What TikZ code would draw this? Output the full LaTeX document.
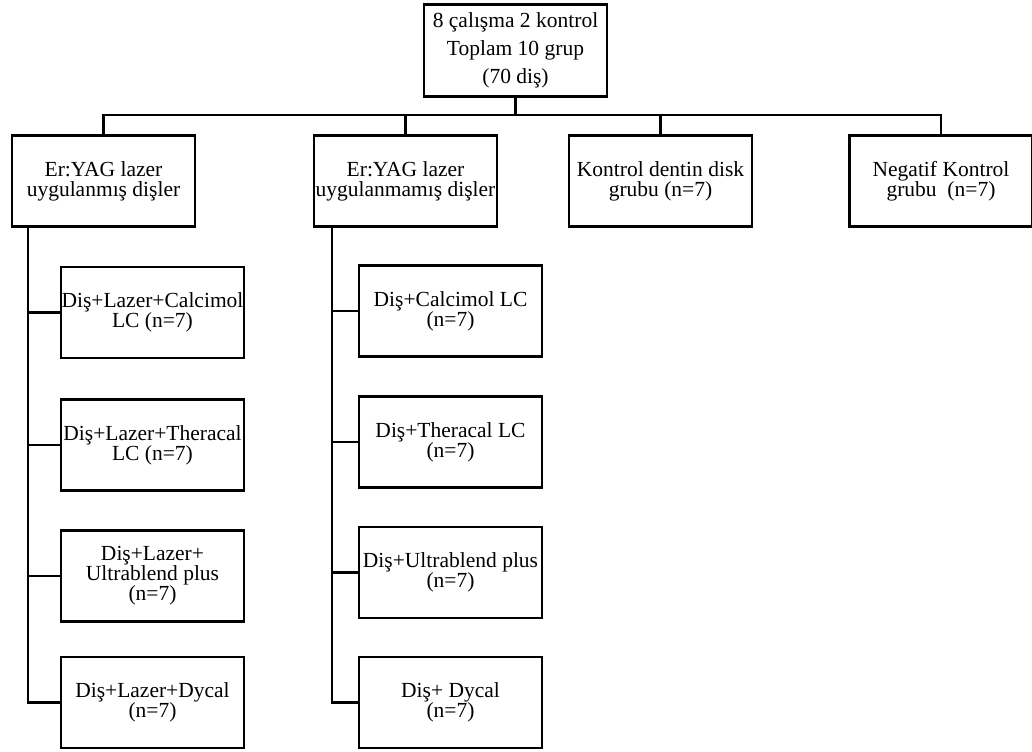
\documentclass[tikz,border=0pt]{standalone}
\usepackage{fontspec}
\setmainfont{Liberation Serif}
\usetikzlibrary{positioning}

\tikzset{
    kutu/.style={draw, line width=1.2pt, align=center, inner sep=0pt,
        minimum width=91.5pt, minimum height=45.5pt,
        font=\fontsize{10.75}{10}\selectfont},
    bag/.style={line width=1.2pt}
}

\begin{document}
\begin{tikzpicture}[x=0.5pt, y=-0.5pt]
        \useasboundingbox (0,0) rectangle (1032,751);

        % Ana kutu
        \node[kutu, minimum height=46pt, font=\fontsize{10.75}{14}\selectfont] (top) at (515.5,50.5)
            {8 çalışma 2 kontrol\\ Toplam 10 grup\\(70 diş)};

        % Birinci seviye
        \node[kutu] (lazer)   at (103.5,181) {Er:YAG lazer\\uygulanmış dişler};
        \node[kutu] (lazersiz) at (405.5,181) {Er:YAG lazer\\uygulanmamış dişler};
        \node[kutu] (kontrol) at (660.5,181) {Kontrol dentin disk\\grubu (n=7)};
        \node[kutu] (negatif) at (941,181) {Negatif Kontrol\\grubu~ (n=7)};

        \coordinate (bar) at (515.5,115);
        \draw[bag] (top.south) -- (bar);
        \draw[bag] (lazer.north) |- (negatif.north |- bar) -- (negatif.north);
        \draw[bag] (lazersiz.north) -- (lazersiz.north |- bar);
        \draw[bag] (kontrol.north) -- (kontrol.north |- bar);

        % Alt gruplar (lazer uygulanmış)
        \node[kutu] (l1) at (152.5,312.5) {Diş+Lazer+Calcimol\\LC (n=7)};
        \node[kutu] (l2) at (152.5,445)   {Diş+Lazer+Theracal\\LC (n=7)};
        \node[kutu] (l3) at (152.5,576)   {Diş+Lazer+\\Ultrablend plus\\(n=7)};
        \node[kutu] (l4) at (152.5,702.5) {Diş+Lazer+Dycal\\(n=7)};

        % Alt gruplar (lazer uygulanmamış)
        \node[kutu] (m1) at (450.5,311)   {Diş+Calcimol LC\\(n=7)};
        \node[kutu] (m2) at (450.5,442)   {Diş+Theracal LC\\(n=7)};
        \node[kutu] (m3) at (450.5,572.5) {Diş+Ultrablend plus\\(n=7)};
        \node[kutu] (m4) at (450.5,702.5) {Diş+ Dycal\\(n=7)};

        % Gövde çizgileri
        \coordinate (lgovde) at ([xshift=8.5pt]lazer.south west);
        \coordinate (mgovde) at ([xshift=9.5pt]lazersiz.south west);
        \draw[bag] (lgovde) |- (l4.west);
        \draw[bag] (mgovde) |- (m4.west);
        \foreach \n in {1,2,3}{
            \draw[bag] (l\n.west) -- (lgovde |- l\n.west);
            \draw[bag] (m\n.west) -- (mgovde |- m\n.west);
        }

    \end{tikzpicture}
\end{document}
